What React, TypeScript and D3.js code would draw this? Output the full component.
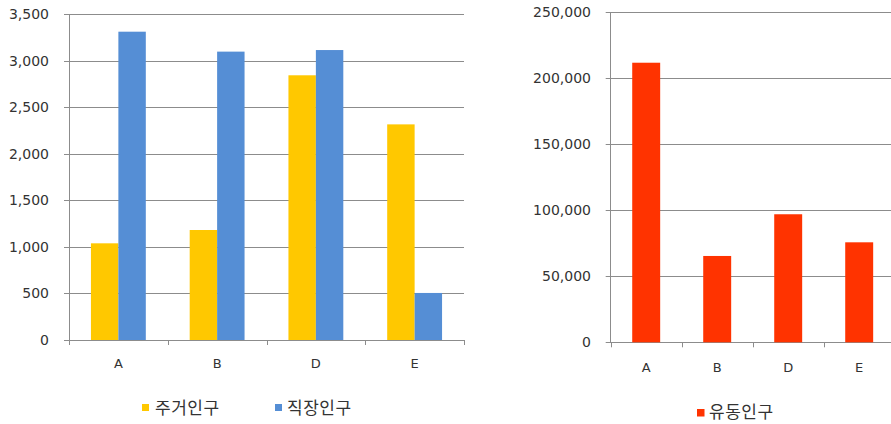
import React from "react";
import * as d3 from "d3";

const categories = ["A", "B", "D", "E"];
const residentPop = [1038, 1181, 2842, 2315];
const workerPop = [3310, 3096, 3113, 505];
const floatingPop = [211800, 65400, 97000, 75750];
const leftTicks = [0, 500, 1000, 1500, 2000, 2500, 3000, 3500];
const rightTicks = [0, 50000, 100000, 150000, 200000, 250000];
const seriesLeft = ["주거인구", "직장인구"];
const seriesRight = ["유동인구"];

const YELLOW = "#FFC800";
const BLUE = "#558ED5";
const RED = "#FF3300";
const GRID = "#8C8C8C";
const NUM_FONT = "'DejaVu Sans', Verdana, sans-serif";
const KR_FONT = "'Noto Sans CJK KR', 'Noto Sans', sans-serif";
const fmt = d3.format(",");

export default function App() {
  // Left chart scales
  const xL = d3.scaleBand<string>().domain(categories).range([69, 464]).paddingInner(0).paddingOuter(0);
  const yL = d3.scaleLinear().domain([0, 3500]).range([340, 14]);
  const bwL = xL.bandwidth();
  const gapL = 1.6;
  const barWL = bwL / (2 + gapL);
  const offL = (barWL * gapL) / 2;

  // Right chart scales
  const xR = d3.scaleBand<string>().domain(categories).range([610.7, 610.7 + 4 * 71]).paddingInner(0).paddingOuter(0);
  const yR = d3.scaleLinear().domain([0, 250000]).range([342.3, 12.3]);
  const bwR = xR.bandwidth();
  const gapR = 1.54;
  const barWR = bwR / (1 + gapR);
  const offR = (barWR * gapR) / 2;

  const leftEdgesL = [...categories.map((c) => xL(c)!), 464];
  const leftEdgesR = [...categories.map((c) => xR(c)!), 610.7 + 4 * 71];

  return (
    <svg
      width={891}
      height={424}
      style={{ position: "absolute", left: 0, top: 0, background: "#fff" }}
    >
      <rect x={0} y={0} width={891} height={424} fill="#fff" />
      {/* LEFT CHART */}
      <g>
        {leftTicks.map((t) => (
          <g key={"lg" + t}>
            <line x1={64} x2={464} y1={Math.round(yL(t)) + 0.5} y2={Math.round(yL(t)) + 0.5} stroke={GRID} strokeWidth={1} />
            <text x={49} y={yL(t)} dy="0.36em" textAnchor="end" fontFamily={NUM_FONT} fontSize={14} fill="#333">
              {fmt(t)}
            </text>
          </g>
        ))}
        <line x1={69.5} x2={69.5} y1={yL(3500)} y2={yL(0)} stroke={GRID} strokeWidth={1} />
        {leftEdgesL.map((x, i) => (
          <line key={"lt" + i} x1={Math.round(x) + 0.5} x2={Math.round(x) + 0.5} y1={yL(0)} y2={yL(0) + 5} stroke={GRID} />
        ))}
        {categories.map((c, i) => (
          <g key={"lb" + c}>
            <rect x={xL(c)! + offL} y={yL(residentPop[i])} width={barWL} height={yL(0) - yL(residentPop[i])} fill={YELLOW} />
            <rect x={xL(c)! + offL + barWL} y={yL(workerPop[i])} width={barWL} height={yL(0) - yL(workerPop[i])} fill={BLUE} />
            <text x={xL(c)! + bwL / 2} y={363} dy="0.36em" textAnchor="middle" fontFamily={NUM_FONT} fontSize={13} fill="#333">
              {c}
            </text>
          </g>
        ))}
        {/* legend */}
        <rect x={142} y={404} width={7} height={7} fill={YELLOW} />
        <text x={155} y={408} dy="0.36em" fontFamily={KR_FONT} fontSize={17} letterSpacing={0.5} fill="#333">
          {seriesLeft[0]}
        </text>
        <rect x={275} y={404} width={7} height={7} fill={BLUE} />
        <text x={287} y={408} dy="0.36em" fontFamily={KR_FONT} fontSize={17} letterSpacing={0.5} fill="#333">
          {seriesLeft[1]}
        </text>
      </g>

      {/* RIGHT CHART */}
      <g>
        {rightTicks.map((t) => (
          <g key={"rg" + t}>
            <line x1={605.7} x2={891} y1={Math.round(yR(t)) + 0.5} y2={Math.round(yR(t)) + 0.5} stroke={GRID} strokeWidth={1} />
            <text x={591} y={yR(t)} dy="0.36em" textAnchor="end" fontFamily={NUM_FONT} fontSize={14} fill="#333">
              {fmt(t)}
            </text>
          </g>
        ))}
        <line x1={610.5} x2={610.5} y1={yR(250000)} y2={yR(0)} stroke={GRID} strokeWidth={1} />
        {leftEdgesR.map((x, i) => (
          <line key={"rt" + i} x1={Math.round(x) + 0.5} x2={Math.round(x) + 0.5} y1={yR(0)} y2={yR(0) + 5} stroke={GRID} />
        ))}
        {categories.map((c, i) => (
          <g key={"rb" + c}>
            <rect x={xR(c)! + offR} y={yR(floatingPop[i])} width={barWR} height={yR(0) - yR(floatingPop[i])} fill={RED} />
            <text x={xR(c)! + bwR / 2} y={367} dy="0.36em" textAnchor="middle" fontFamily={NUM_FONT} fontSize={13} fill="#333">
              {c}
            </text>
          </g>
        ))}
        <rect x={697} y={409} width={7.5} height={7.5} fill={RED} />
        <text x={709} y={412} dy="0.36em" fontFamily={KR_FONT} fontSize={17} letterSpacing={0.5} fill="#333">
          {seriesRight[0]}
        </text>
      </g>
    </svg>
  );
}
